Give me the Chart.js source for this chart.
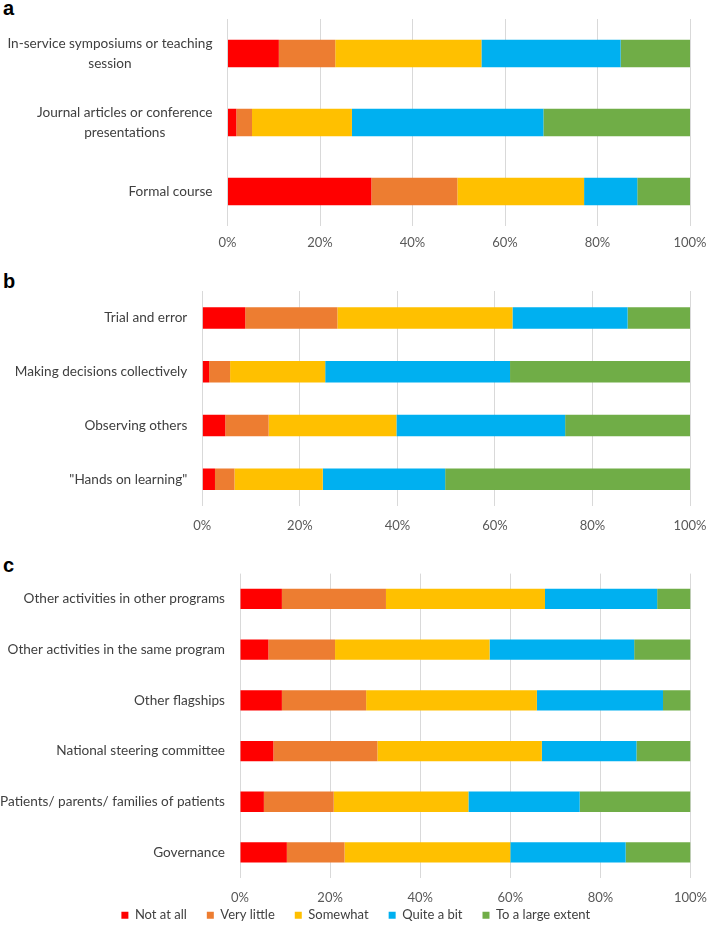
<!DOCTYPE html>
<html>
<head>
<meta charset="utf-8">
<script src="https://cdn.jsdelivr.net/npm/chart.js@4.4.0/dist/chart.umd.min.js"></script>
<style>
  body { margin: 0; background: #fff; width: 709px; height: 925px; overflow: hidden; position: relative; }
  .panel { position: absolute; left: 0; width: 709px; }
  .tag { position: absolute; left: 3px; font: bold 20px "Liberation Sans", Arial, sans-serif; line-height: 1; color: #000; }
</style>
</head>
<body>
<div class="tag" style="top:-2px">a</div>
<div class="tag" style="top:271px">b</div>
<div class="tag" style="top:555px">c</div>
<div class="panel" style="top:0;height:260px"><canvas id="chartA"></canvas></div>
<div class="panel" style="top:260px;height:280px"><canvas id="chartB"></canvas></div>
<div class="panel" style="top:540px;height:385px"><canvas id="chartC"></canvas></div>
<script>
// response scale, same for all three panels
const seriesNames = ["Not at all", "Very little", "Somewhat", "Quite a bit", "To a large extent"];
const xTickLabels = ["0%", "20%", "40%", "60%", "80%", "100%"];

// panel a
const aCategories = [["In-service symposiums or teaching", "session"], ["Journal articles or conference", "presentations"], "Formal course"];
const aNotAtAll = [11.1, 1.9, 31.1];
const aVeryLittle = [12.2, 3.4, 18.6];
const aSomewhat = [31.6, 21.6, 27.4];
const aQuiteABit = [30.1, 41.4, 11.5];
const aLargeExtent = [15.0, 31.7, 11.4];

// panel b
const bCategories = ["Trial and error", "Making decisions collectively", "Observing others", "\"Hands on learning\""];
const bNotAtAll = [8.8, 1.4, 4.7, 2.6];
const bVeryLittle = [18.9, 4.3, 8.9, 4.0];
const bSomewhat = [35.9, 19.5, 26.2, 18.1];
const bQuiteABit = [23.6, 37.9, 34.6, 25.1];
const bLargeExtent = [12.8, 36.9, 25.6, 50.2];

// panel c
const cCategories = ["Other activities in other programs", "Other activities in the same program", "Other flagships",
    "National steering committee", "Patients/ parents/ families of patients", "Governance"];
const cNotAtAll = [9.3, 6.3, 9.3, 7.4, 5.3, 10.4];
const cVeryLittle = [23.1, 14.8, 18.7, 23.1, 15.5, 12.8];
const cSomewhat = [35.3, 34.3, 37.9, 36.5, 29.9, 36.8];
const cQuiteABit = [24.9, 32.1, 28.0, 21.0, 24.7, 25.6];
const cLargeExtent = [7.4, 12.5, 6.1, 12.0, 24.6, 14.4];

const seriesColors = ["#ff0000", "#ed7d31", "#ffc000", "#00b0f0", "#70ad47"];
const textFont = "Lato, sans-serif";

// category labels drawn by hand so two-line labels stay centred on each other
const yLabelPlugin = {
    id: "yLabels",
    afterDraw(chart) {
        const ctx = chart.ctx;
        const yScale = chart.scales.y;
        const right = chart.chartArea.left - 15;
        const lineHeight = 20;
        ctx.save();
        ctx.font = "13.6px " + textFont;
        ctx.fillStyle = "#404040";
        ctx.textAlign = "center";
        ctx.textBaseline = "middle";
        chart.data.labels.forEach(function (label, i) {
            const lines = Array.isArray(label) ? label : [label];
            const widest = Math.max(...lines.map(l => ctx.measureText(l).width));
            const cx = right - widest / 2;
            const y0 = yScale.getPixelForTick(i) - (lines.length - 1) * lineHeight / 2;
            lines.forEach(function (line, j) {
                ctx.fillText(line, cx, y0 + j * lineHeight);
            });
        });
        ctx.restore();
    }
};

// the legend's label padding also pads it vertically; pull its top up closer to the axis
const legendNudge = {
    id: "legendNudge",
    afterLayout(chart, args, options) {
        if (chart.legend && options.shift) {
            chart.legend.top -= options.shift;
            chart.legend.bottom = chart.height;
            chart.legend.height = chart.legend.bottom - chart.legend.top;
        }
    }
};

function makeChart(id, categories, values, opts) {
    const padLeft = opts.padLeft || 0;
    return new Chart(document.getElementById(id), {
        type: "bar",
        data: {
            labels: categories,
            datasets: values.map(function (data, i) {
                return {
                    label: seriesNames[i],
                    data: data,
                    backgroundColor: seriesColors[i],
                    borderWidth: 0,
                    barPercentage: 0.4,
                    categoryPercentage: 1.0
                };
            })
        },
        options: {
            indexAxis: "y",
            responsive: true,
            maintainAspectRatio: false,
            animation: false,
            layout: {
                padding: { top: opts.top, right: opts.right, bottom: 0, left: padLeft }
            },
            plugins: {
                legend: {
                    display: !!opts.legend,
                    position: "bottom",
                    maxHeight: opts.legendHeight,
                    labels: {
                        boxWidth: 7,
                        boxHeight: 7,
                        padding: 20,
                        color: "#404040",
                        font: { family: textFont, size: 13 }
                    }
                },
                legendNudge: { shift: opts.legendShift || 0 },
                tooltip: { enabled: false }
            },
            scales: {
                x: {
                    stacked: true,
                    min: 0,
                    max: 100,
                    grid: { color: "#d9d9d9", drawTicks: false },
                    border: { display: false },
                    ticks: {
                        stepSize: 20,
                        padding: opts.tickPad,
                        color: "#595959",
                        font: { family: textFont, size: 13 },
                        callback: function (value, index) {
                            return xTickLabels[index];
                        }
                    },
                    afterFit: function (scale) {
                        scale.height = opts.axisHeight;
                        scale.paddingLeft = 0;
                        scale.paddingRight = 0;
                    }
                },
                y: {
                    stacked: true,
                    grid: { display: false },
                    border: { display: false },
                    ticks: { display: false },
                    afterFit: function (scale) {
                        scale.width = opts.left - padLeft;
                    }
                }
            }
        },
        plugins: [yLabelPlugin, legendNudge]
    });
}

makeChart("chartA", aCategories, [aNotAtAll, aVeryLittle, aSomewhat, aQuiteABit, aLargeExtent],
    { top: 19, right: 19, left: 227.5, axisHeight: 34, tickPad: 9 });
makeChart("chartB", bCategories, [bNotAtAll, bVeryLittle, bSomewhat, bQuiteABit, bLargeExtent],
    { top: 31, right: 19, left: 202.3, axisHeight: 34, tickPad: 12 });
makeChart("chartC", cCategories, [cNotAtAll, cVeryLittle, cSomewhat, cQuiteABit, cLargeExtent],
    { top: 33.6, right: 18.5, left: 240, padLeft: 21, axisHeight: 28, tickPad: 12,
      legend: true, legendHeight: 19.2, legendShift: 17 });
</script>
</body>
</html>
